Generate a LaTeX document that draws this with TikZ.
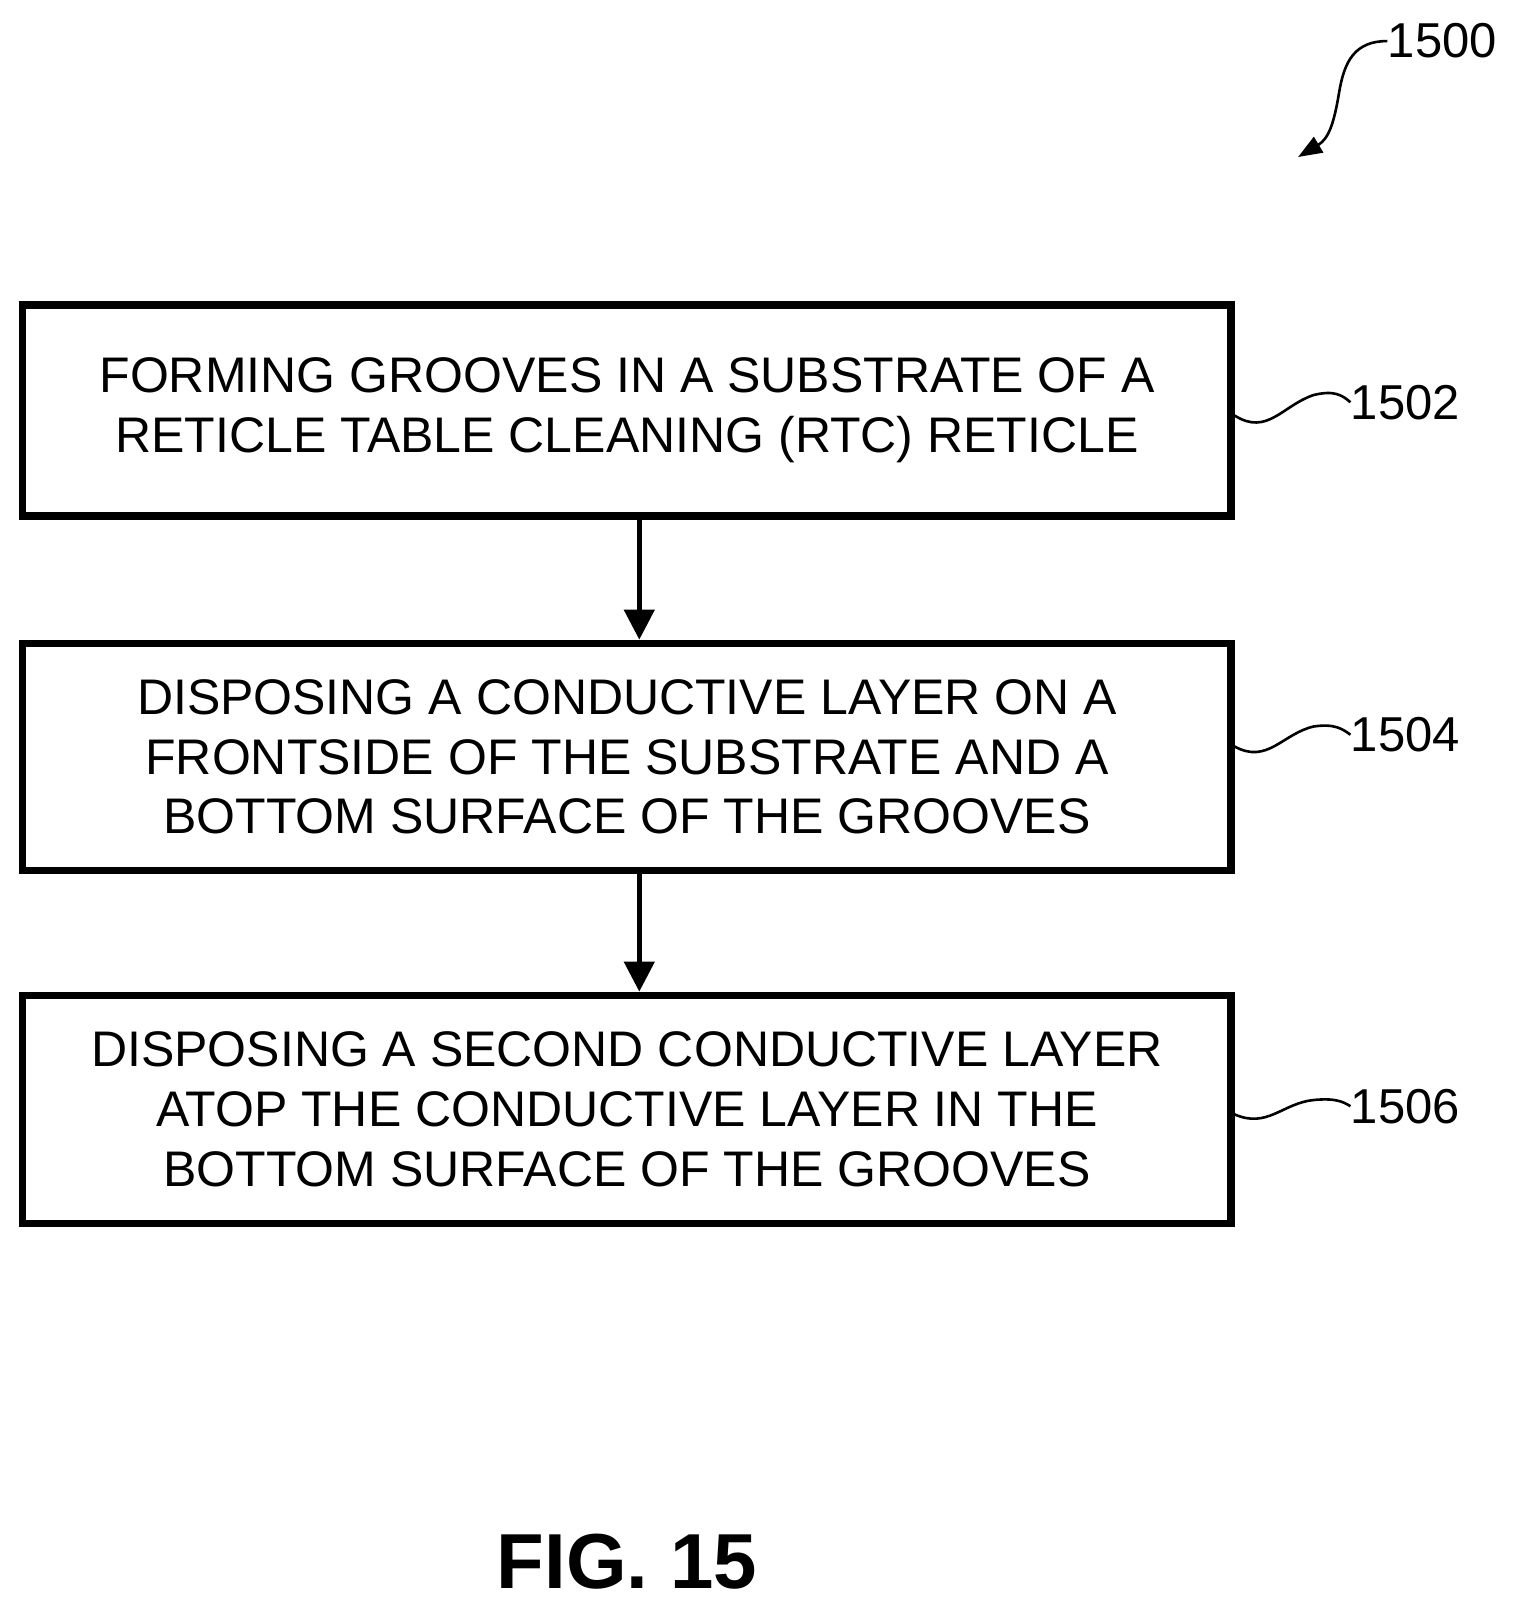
\documentclass[tikz,border=0pt]{standalone}
\usepackage{fontspec}
\setmainfont{Liberation Sans}
\usetikzlibrary{arrows.meta}
\begin{document}
\begin{tikzpicture}[x=0.513pt,y=-0.513pt,
  box/.style={draw,line width=3.6pt,minimum width=604pt,align=center,font=\fontsize{25}{29.8}\selectfont},
  lab/.style={font=\fontsize{24.5}{29}\selectfont,anchor=west,inner sep=0},
  flow/.style={line width=2.3pt,-{Triangle[length=15pt,width=15pt]}},
  sq/.style={line width=1.3pt}]
\useasboundingbox (0,0) rectangle (1477,1568);
\node[box,minimum height=105.5pt] (b1) at (611,400) {FORMING GROOVES IN A SUBSTRATE OF A\\RETICLE TABLE CLEANING (RTC) RETICLE};
\node[box,minimum height=113.5pt] (b2) at (611,737.5) {DISPOSING A CONDUCTIVE LAYER ON A\\FRONTSIDE OF THE SUBSTRATE AND A\\BOTTOM SURFACE OF THE GROOVES};
\node[box,minimum height=114pt] (b3) at (611,1081) {DISPOSING A SECOND CONDUCTIVE LAYER\\ATOP THE CONDUCTIVE LAYER IN THE\\BOTTOM SURFACE OF THE GROOVES};
\draw[flow] (b1.south -| 623,0) -- (b2.north -| 623,0);
\draw[flow] (b2.south -| 623,0) -- (b3.north -| 623,0);
\node[lab] (l1) at (1316,392) {1502};
\node[lab] (l2) at (1316,716) {1504};
\node[lab] (l3) at (1316,1078) {1506};
\draw[sq] (b1.east) ++(0,5) .. controls (1235,425) and (1250,395) .. (1280,385) .. controls (1300,380) and (1308,385) .. (l1.west);
\draw[sq] (b2.east) ++(0,-10) .. controls (1235,745) and (1250,715) .. (1280,708) .. controls (1300,705) and (1308,710) .. (l2.west);
\draw[sq] (b3.east) ++(0,5) .. controls (1235,1100) and (1250,1075) .. (1280,1072) .. controls (1300,1070) and (1308,1073) .. (l3.west);
\node[lab] (l0) at (1352,40) {1500};
\draw[line width=1.3pt,-{Triangle[length=12pt,width=9pt]}] (l0.west) .. controls (1320,40) and (1310,60) .. (1305,90) .. controls (1300,120) and (1295,135) .. (1265,153);
\node[font=\bfseries\fontsize{39}{44}\selectfont] (fig) at (611,1522) {FIG. 15};
\end{tikzpicture}
\end{document}
